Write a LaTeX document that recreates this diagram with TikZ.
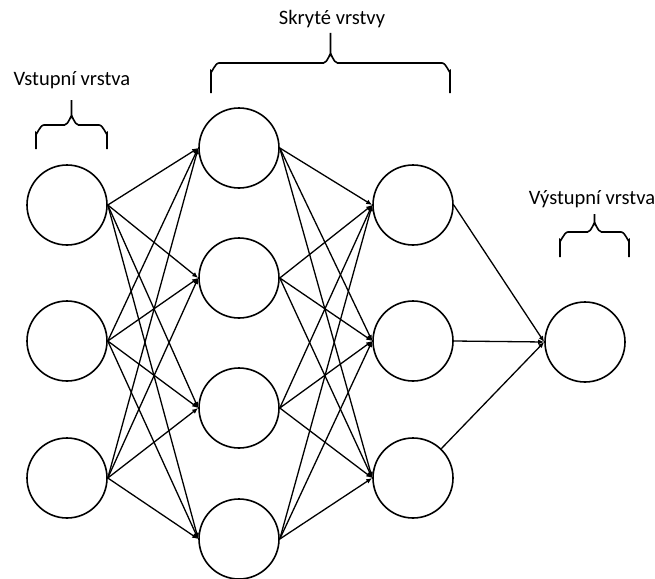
\documentclass[tikz,border=0pt]{standalone}
\usepackage{fontspec}
\setmainfont{Carlito}
\usetikzlibrary{arrows.meta}
\begin{document}
\begin{tikzpicture}[x=1pt,y=-1pt,
  neuron/.style={circle,draw,line width=1.6pt,minimum size=80pt,inner sep=0pt},
  conn/.style={line width=1.3pt,-{Latex[length=6pt,width=5pt]}},
  lbl/.style={font=\fontsize{20.5}{24}\selectfont,inner sep=0pt}]
\useasboundingbox (0,0) rectangle (655,578);
% nodes
\node[neuron] (i1) at (67,205) {};
\node[neuron] (i2) at (67,341) {};
\node[neuron] (i3) at (67,478) {};
\node[neuron] (h1) at (239,148) {};
\node[neuron] (h2) at (239,278) {};
\node[neuron] (h3) at (239,408) {};
\node[neuron] (h4) at (239,539) {};
\node[neuron] (k1) at (413,205) {};
\node[neuron] (k2) at (413,341) {};
\node[neuron] (k3) at (413,478) {};
\node[neuron] (o1) at (585,342) {};
% connections
\foreach \s in {i1,i2,i3}{
  \foreach \t in {h1,h2,h3,h4}{
    \draw[conn] (\s.east) -- (\t.west);
  }
}
\foreach \s in {h1,h2,h3,h4}{
  \foreach \t in {k1,k2,k3}{
    \draw[conn] (\s.east) -- (\t.west);
  }
}
\draw[conn] (k1.east) -- (o1.west);
\draw[conn] (k2.east) -- (o1.west);
\draw[conn] (k3) -- (o1.west);
% braces
\newcommand\mybrace[5]{% x1, x2, ybottom, yline, ytip
  \pgfmathsetmacro\xm{(#1+#2)/2}
  \draw[line width=1.6pt] (#1,#3) -- (#1,#4+8) to[out=-90,in=180] (#1+8,#4)
    -- (\xm-7,#4) to[out=0,in=90] (\xm,#4-8) -- (\xm,#5);
  \draw[line width=1.6pt] (#2,#3) -- (#2,#4+8) to[out=-90,in=0] (#2-8,#4)
    -- (\xm+7,#4) to[out=180,in=90] (\xm,#4-8);
}
\mybrace{36}{107}{149}{125}{100}
\mybrace{211}{450}{93}{63}{33}
\mybrace{560}{629}{257}{232}{214}
% labels
\node[lbl] (l1) at (72,80) {Vstupní vrstva};
\node[lbl] (l2) at (332,19) {Skryté vrstvy};
\node[lbl] (l3) at (592,199) {Výstupní vrstva};
\end{tikzpicture}
\end{document}
